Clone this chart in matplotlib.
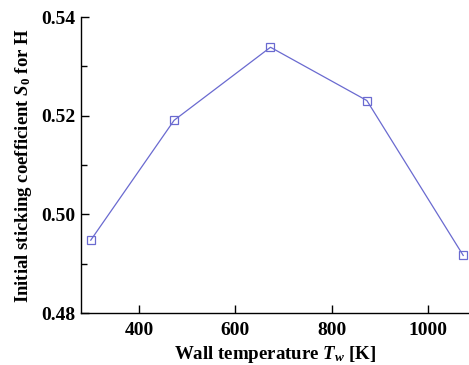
import numpy as np
import matplotlib
matplotlib.use('Agg')
import matplotlib.pyplot as plt
from matplotlib.ticker import MultipleLocator

# wall temperature [K] and initial sticking coefficient for H
wall_temp = [300, 473, 673, 873, 1073]
s0 = [0.4948, 0.5191, 0.5339, 0.5231, 0.4917]

plt.rcParams['font.family'] = 'Liberation Serif'
plt.rcParams['font.weight'] = 'bold'
plt.rcParams['mathtext.fontset'] = 'custom'
plt.rcParams['mathtext.rm'] = 'Liberation Serif:bold'
plt.rcParams['mathtext.it'] = 'Liberation Serif:italic:bold'

fig = plt.figure(figsize=(4.69, 3.65), dpi=100)
ax = fig.add_axes([0.173, 0.142, 0.827, 0.811])

ax.plot(wall_temp, s0, color='#6a6ad0', lw=0.9, marker='s', ms=6,
        mfc='none', mec='#6a6ad0', mew=0.9)

ax.set_xlim(280, 1085)
ax.set_ylim(0.48, 0.54)
ax.xaxis.set_major_locator(MultipleLocator(200))
ax.yaxis.set_major_locator(MultipleLocator(0.02))
ax.yaxis.set_minor_locator(MultipleLocator(0.01))
ax.yaxis.set_major_formatter(matplotlib.ticker.FormatStrFormatter('%.2f'))

for s in ['top', 'right']:
    ax.spines[s].set_visible(False)
for s in ['left', 'bottom']:
    ax.spines[s].set_linewidth(1.0)

ax.tick_params(which='major', direction='in', length=6, width=1, labelsize=14)
ax.tick_params(axis='y', which='major', pad=4)
ax.tick_params(axis='x', which='major', pad=6)
ax.tick_params(which='minor', direction='in', length=4, width=1)
ax.tick_params(top=False, right=False)

ax.set_xlabel(r'Wall temperature $T_w$ [K]', fontsize=13.6, fontweight='bold', labelpad=4)
ax.set_ylabel(r'Initial sticking coefficient $S_{\mathit{0}}$ for H', fontsize=13.5,
              fontweight='bold', labelpad=5)

fig.savefig('out.png', dpi=100)
